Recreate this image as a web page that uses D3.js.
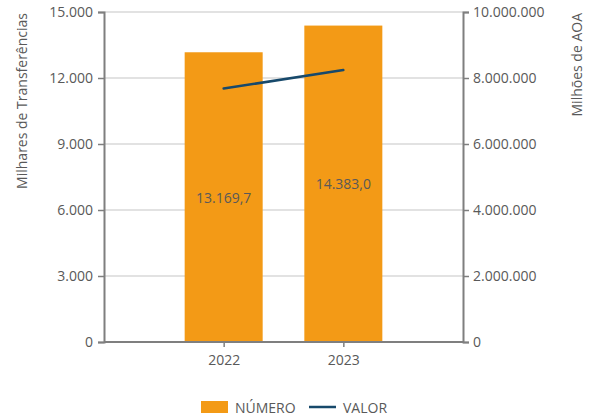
<!DOCTYPE html>
<html><head><meta charset="utf-8">
<script src="https://cdn.jsdelivr.net/npm/d3@7"></script>
<style>body{margin:0;background:#fff}svg{display:block}text{font-family:"Open Sans",sans-serif;fill:#595959}</style>
</head><body><svg id="c" width="591" height="419"></svg>
<script>
const categories = ["2022","2023"];
const numero = [13169.7, 14383.0];
const valor = [7680000, 8240000];
const leftTicks = [0,3000,6000,9000,12000,15000];
const rightTicks = [0,2000000,4000000,6000000,8000000,10000000];
const numLabels = ["13.169,7","14.383,0"];

const svg = d3.select("#c");
const L=104,R=463,T=12,B=342;
const FS=14;
const x = d3.scalePoint().domain(categories).range([L,R]).padding(1);
const yL = d3.scaleLinear().domain([0,15000]).range([B,T]);
const yR = d3.scaleLinear().domain([0,10000000]).range([B,T]);
const fmt = v => d3.format(",")(v).replace(/,/g,".");

// grid
svg.append("g").selectAll("line").data(leftTicks.slice(1)).join("line")
  .attr("x1",L).attr("x2",R).attr("y1",d=>yL(d)).attr("y2",d=>yL(d))
  .attr("stroke","#d9d9d9").attr("stroke-width",1.5);

const bw = 78;
svg.append("g").selectAll("rect").data(numero).join("rect")
  .attr("x",(d,i)=>x(categories[i])-bw/2).attr("width",bw)
  .attr("y",d=>yL(d)).attr("height",d=>B-yL(d)).attr("fill","#F39A16");

svg.append("g").selectAll("text").data(numero).join("text")
  .attr("x",(d,i)=>x(categories[i])).attr("y",d=>(yL(d)+B)/2)
  .attr("text-anchor","middle").attr("dominant-baseline","central")
  .attr("font-size",FS).text((d,i)=>numLabels[i]);

svg.append("path").datum(valor)
  .attr("d",d3.line().x((d,i)=>x(categories[i])).y(d=>yR(d)))
  .attr("fill","none").attr("stroke","#17496b").attr("stroke-width",2.5).attr("stroke-linecap","round");

// axes
const axL = svg.append("g").attr("transform",`translate(${L},0)`)
  .call(d3.axisLeft(yL).tickValues(leftTicks).tickFormat(fmt).tickSize(6).tickPadding(5));
const axR = svg.append("g").attr("transform",`translate(${R},0)`)
  .call(d3.axisRight(yR).tickValues(rightTicks).tickFormat(fmt).tickSize(6).tickPadding(4));
const axB = svg.append("g").attr("transform",`translate(0,${B})`)
  .call(d3.axisBottom(x).tickSize(5).tickPadding(8));
[axL,axR,axB].forEach(a=>{
  a.select(".domain").attr("stroke","#7f7f7f").attr("stroke-width",2);
  a.selectAll(".tick line").attr("stroke","#7f7f7f").attr("stroke-width",1.5);
  a.selectAll(".tick text").attr("font-size",FS).attr("fill","#595959").attr("font-family","Open Sans, sans-serif");
});
axB.select(".domain").attr("d",`M${L},0H${R}`);

svg.append("text").attr("transform","translate(27,13) rotate(-90)").attr("text-anchor","end")
  .attr("font-size",FS).text("Milhares de Transferências");
svg.append("text").attr("transform","translate(582,13) rotate(-90)").attr("text-anchor","end")
  .attr("font-size",FS).text("Milhões de AOA");

// legend
svg.append("rect").attr("x",201).attr("y",401).attr("width",27).attr("height",12).attr("fill","#F39A16");
svg.append("text").attr("x",235).attr("y",407).attr("dominant-baseline","central").attr("font-size",FS).text("NÚMERO");
svg.append("line").attr("x1",309).attr("x2",336).attr("y1",407).attr("y2",407).attr("stroke","#17496b").attr("stroke-width",2.5);
svg.append("text").attr("x",343).attr("y",407).attr("dominant-baseline","central").attr("font-size",FS).text("VALOR");
</script></body></html>
